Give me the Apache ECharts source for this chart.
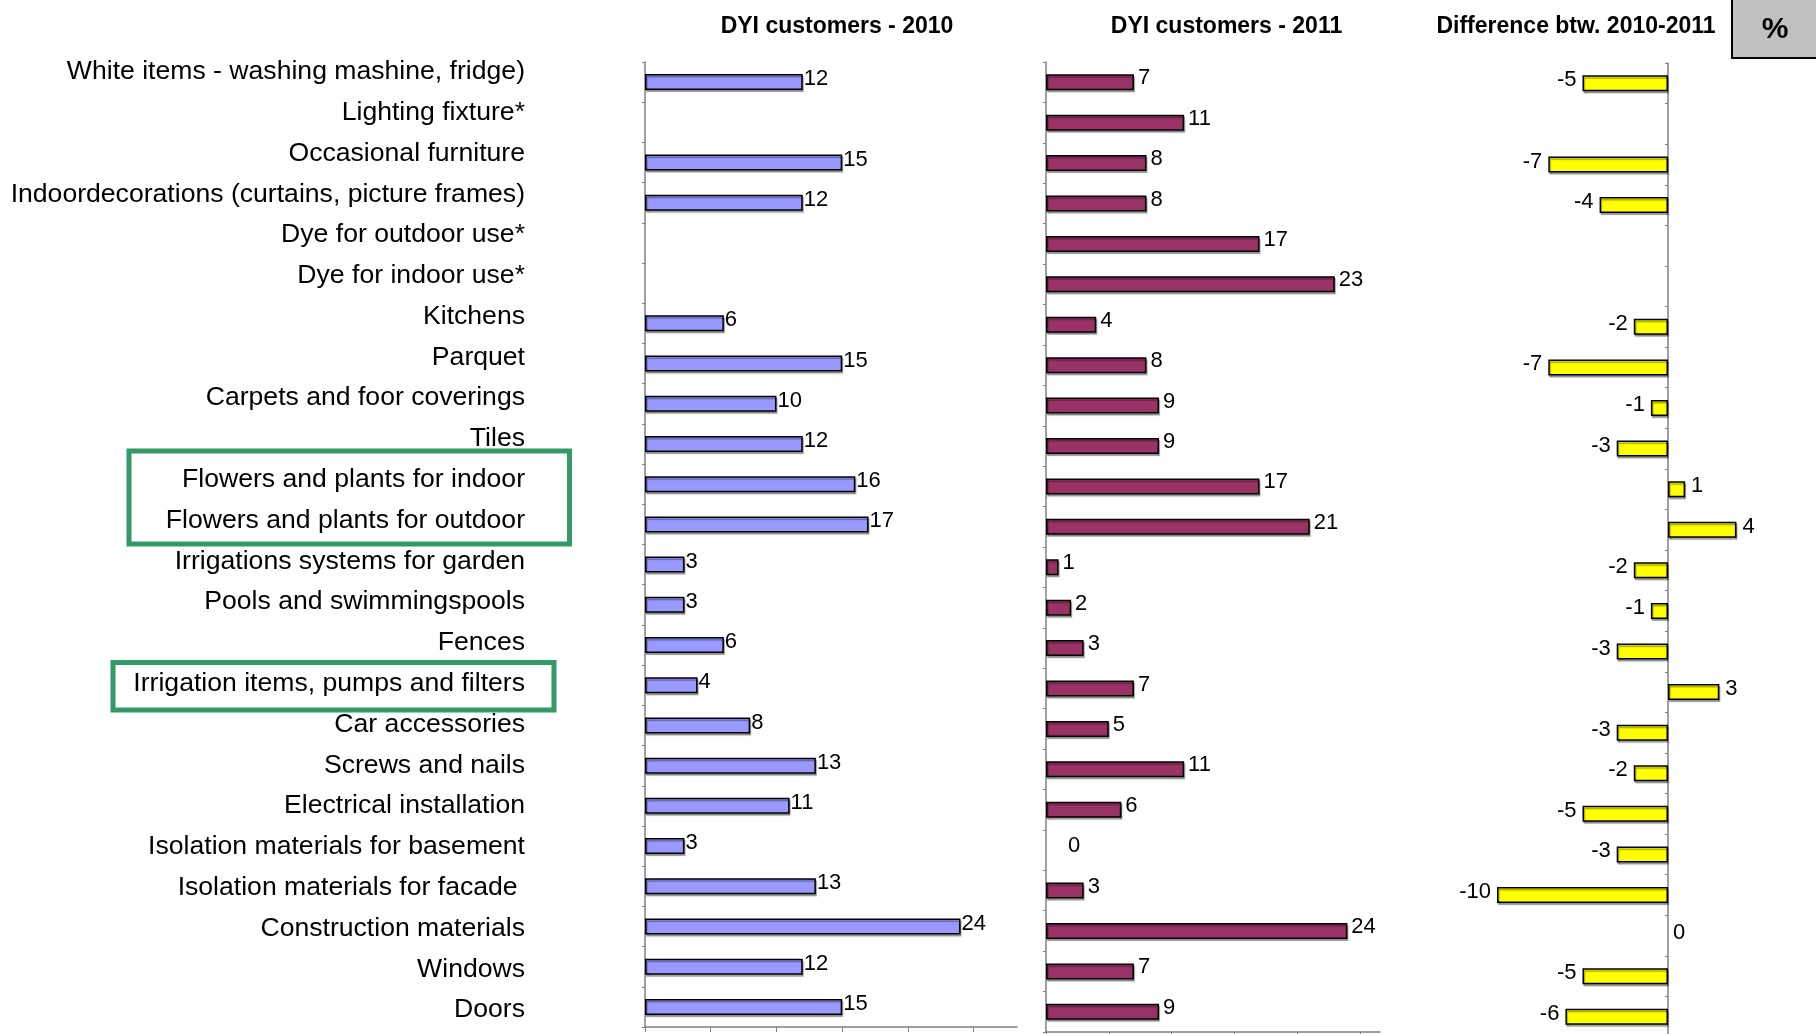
<!DOCTYPE html>
<html>
<head>
<meta charset="utf-8">
<script src="https://cdn.jsdelivr.net/npm/echarts@6/dist/echarts.min.js"></script>
<style>
html,body{margin:0;padding:0;background:#fff;}
#chart{width:1816px;height:1034px;}
</style>
</head>
<body>
<div id="chart"></div>
<script>
const categories = [
  'White items - washing mashine, fridge)',
  'Lighting fixture*',
  'Occasional furniture',
  'Indoordecorations (curtains, picture frames)',
  'Dye for outdoor use*',
  'Dye for indoor use*',
  'Kitchens',
  'Parquet',
  'Carpets and foor coverings',
  'Tiles',
  'Flowers and plants for indoor',
  'Flowers and plants for outdoor',
  'Irrigations systems for garden',
  'Pools and swimmingspools',
  'Fences',
  'Irrigation items, pumps and filters',
  'Car accessories',
  'Screws and nails',
  'Electrical installation',
  'Isolation materials for basement',
  'Isolation materials for facade ',
  'Construction materials',
  'Windows',
  'Doors'
];
const values2010 = [12, null, 15, 12, null, null, 6, 15, 10, 12, 16, 17, 3, 3, 6, 4, 8, 13, 11, 3, 13, 24, 12, 15];
const values2011 = [7, 11, 8, 8, 17, 23, 4, 8, 9, 9, 17, 21, 1, 2, 3, 7, 5, 11, 6, 0, 3, 24, 7, 9];
const valuesDiff = [-5, null, -7, -4, null, null, -2, -7, -1, -3, 1, 4, -2, -1, -3, 3, -3, -2, -5, -3, -10, 0, -5, -6];
const panelTitles = ['DYI customers - 2010', 'DYI customers - 2011', 'Difference btw. 2010-2011'];
const valueTicks = [0, 5, 10, 15, 20, 25];
const unitLabel = '%';

const FONT = '"Liberation Sans", Arial, sans-serif';
const axisGray = '#808080';

const chart = echarts.init(document.getElementById('chart'), null, {renderer: 'canvas'});

function barStyle(color) {
  return {
    color: color,
    borderColor: '#000',
    borderWidth: 1.5,
    shadowColor: 'rgba(0,0,0,0.35)',
    shadowOffsetX: 1,
    shadowOffsetY: 2,
    shadowBlur: 1
  };
}
const zeroItemStyle = {borderWidth: 0, shadowColor: 'rgba(0,0,0,0)'};

const baseLabel = {
  show: true,
  color: '#000',
  fontSize: 22,
  fontFamily: FONT,
  formatter: p => (p.value === null || p.value === undefined) ? '' : String(p.value)
};

const data2011 = values2011.map(v => v === 0
  ? {value: v, itemStyle: zeroItemStyle, label: {distance: 22}}
  : v);
const dataDiff = valuesDiff.map(v => v === null ? null : {
  value: v,
  itemStyle: v === 0 ? zeroItemStyle : undefined,
  label: {position: v < 0 ? 'left' : 'right', distance: v === 0 ? 5 : 6}
});

const valueAxisCommon = {
  type: 'value',
  axisLine: {show: true, lineStyle: {color: axisGray, width: 1.5}},
  axisTick: {show: true, length: 5, customValues: valueTicks, lineStyle: {color: axisGray, width: 1}},
  axisLabel: {show: false},
  splitLine: {show: false}
};
const catAxisCommon = {
  type: 'category',
  data: categories,
  inverse: true,
  axisLine: {show: true, onZero: true, lineStyle: {color: axisGray, width: 1.5}},
  axisTick: {show: true, length: 3, lineStyle: {color: axisGray, width: 1}},
  axisLabel: {show: false}
};

const option = {
  backgroundColor: '#fff',
  animation: false,
  grid: [
    {left: 535, top: 51.4, width: 40, height: 979, containLabel: false, outerBoundsMode: 'none'},
    {left: 645, top: 62, width: 372, height: 965, containLabel: false, outerBoundsMode: 'none'},
    {left: 1046, top: 62, width: 334, height: 970, containLabel: false, outerBoundsMode: 'none'},
    {left: 1462.8, top: 63, width: 307.8, height: 974, containLabel: false, outerBoundsMode: 'none'}
  ],
  xAxis: [
    {gridIndex: 0, type: 'value', show: false, min: 0, max: 1},
    Object.assign({gridIndex: 1, min: 0, max: 28.3, interval: 5}, valueAxisCommon),
    Object.assign({gridIndex: 2, min: 0, max: 26.6, interval: 5}, valueAxisCommon),
    {gridIndex: 3, type: 'value', min: -12, max: 6, interval: 2,
     axisLine: {show: false}, axisTick: {show: false}, axisLabel: {show: false}, splitLine: {show: false}}
  ],
  yAxis: [
    {gridIndex: 0, type: 'category', data: categories, inverse: true,
     axisLine: {show: false}, axisTick: {show: false},
     axisLabel: {show: true, interval: 0, margin: 10, color: '#000', fontSize: 26.6, fontFamily: FONT}},
    Object.assign({gridIndex: 1}, catAxisCommon),
    Object.assign({gridIndex: 2}, catAxisCommon),
    Object.assign({gridIndex: 3}, catAxisCommon)
  ],
  series: [
    {
      name: '2010', type: 'bar', xAxisIndex: 1, yAxisIndex: 1,
      data: values2010, barWidth: 16,
      itemStyle: barStyle('#9999FF'),
      label: Object.assign({}, baseLabel, {position: 'right', distance: 1, offset: [0, -3]})
    },
    {
      name: '2011', type: 'bar', xAxisIndex: 2, yAxisIndex: 2,
      data: data2011, barWidth: 16,
      itemStyle: barStyle('#993366'),
      label: Object.assign({}, baseLabel, {position: 'right', distance: 4, offset: [0, -4]})
    },
    {
      name: 'Difference', type: 'bar', xAxisIndex: 3, yAxisIndex: 3,
      data: dataDiff, barWidth: 16,
      itemStyle: barStyle('#FFFF00'),
      label: Object.assign({}, baseLabel, {position: 'right', distance: 6, offset: [0, -3]})
    }
  ],
  graphic: [
    {type: 'text', x: 837, y: 27, style: {text: panelTitles[0], font: 'bold 23px ' + FONT, fill: '#000', textAlign: 'center', textVerticalAlign: 'middle'}},
    {type: 'text', x: 1226.5, y: 27, style: {text: panelTitles[1], font: 'bold 23px ' + FONT, fill: '#000', textAlign: 'center', textVerticalAlign: 'middle'}},
    {type: 'text', x: 1576, y: 27, style: {text: panelTitles[2], font: 'bold 23px ' + FONT, fill: '#000', textAlign: 'center', textVerticalAlign: 'middle'}},
    {type: 'rect', shape: {x: 1732, y: -3, width: 90, height: 61}, style: {fill: '#C0C0C0', stroke: '#000', lineWidth: 2}},
    {type: 'text', x: 1775, y: 30, style: {text: unitLabel, font: 'bold 30px ' + FONT, fill: '#000', textAlign: 'center', textVerticalAlign: 'middle'}},
    {type: 'rect', shape: {x: 129, y: 451, width: 440.5, height: 93}, style: {fill: 'none', stroke: '#339966', lineWidth: 5}},
    {type: 'rect', shape: {x: 113, y: 662.5, width: 441, height: 47.5}, style: {fill: 'none', stroke: '#339966', lineWidth: 5}}
  ]
};

chart.setOption(option);
</script>
</body>
</html>
